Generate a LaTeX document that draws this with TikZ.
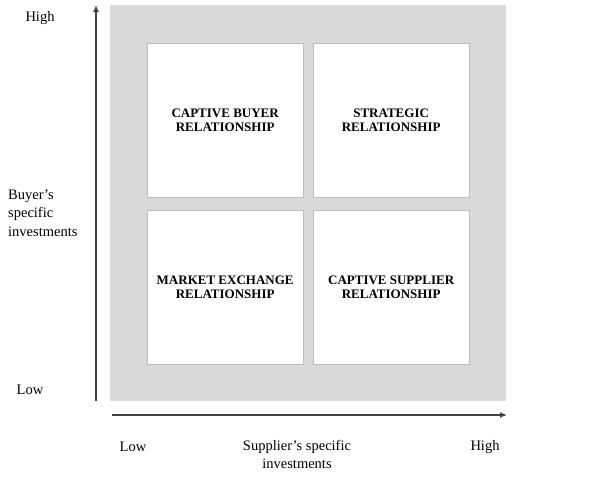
\documentclass[tikz,border=0pt]{standalone}
\usepackage{fontspec}
\setmainfont{Liberation Serif}
\usetikzlibrary{arrows.meta}
\definecolor{panel}{HTML}{D9D9D9}
\definecolor{axis}{HTML}{404040}
\begin{document}
\begin{tikzpicture}[x=1pt,y=-1pt,
  quad/.style={fill=white,draw=panel!88!black,line width=0.3pt,minimum width=156pt,minimum height=154pt,anchor=north west,inner sep=0pt,
    align=center,font=\fontsize{13}{14.5}\selectfont\bfseries},
  lbl/.style={font=\fontsize{14.5}{18.5}\selectfont,inner sep=0pt},
  axisline/.style={draw=axis,line width=1.3pt,-{Latex[length=7pt,width=6pt]}}]
\useasboundingbox (0,0) rectangle (605,482);
\fill[panel] (110,5) rectangle (506,401);
\node[quad] (cb) at (147,43) {CAPTIVE BUYER\\RELATIONSHIP};
\node[quad] (st) at (313,43) {STRATEGIC\\RELATIONSHIP};
\node[quad] (me) at (147,210) {MARKET EXCHANGE\\RELATIONSHIP};
\node[quad] (cs) at (313,210) {CAPTIVE SUPPLIER\\RELATIONSHIP};
\coordinate (v0) at (96,401);
\coordinate (v1) at (96,5);
\coordinate (h0) at (112,415);
\coordinate (h1) at (507,415);
\draw[axisline] (v0) -- (v1);
\draw[axisline] (h0) -- (h1);
\node[lbl] (yhigh) at (40,18) {High};
\node[lbl,align=left,anchor=west] (ylab) at (8,213) {Buyer’s\\specific\\investments};
\node[lbl] (ylow) at (30,390) {Low};
\node[lbl] (xlow) at (133,447) {Low};
\node[lbl,align=center,anchor=north] (xlab) at (297,440) {Supplier’s specific\\investments};
\node[lbl] (xhigh) at (485,447) {High};
\end{tikzpicture}
\end{document}
